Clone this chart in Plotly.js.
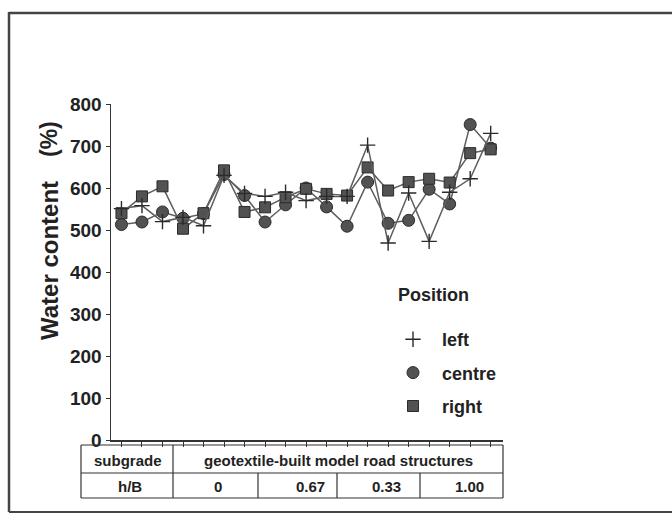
<!DOCTYPE html>
<html>
<head>
<meta charset="utf-8">
<script src="https://cdn.plot.ly/plotly-3.0.1.min.js"></script>
<style>
  html, body { margin: 0; padding: 0; background: #fff; }
  #chart { width: 672px; height: 527px; }
</style>
</head>
<body>
<div id="chart"></div>
<script>
// Water content along the model road cross-section, three measuring positions
const sections = [1, 2, 3, 4, 5, 6, 7, 8, 9, 10, 11, 12, 13, 14, 15, 16, 17, 18, 19];
const leftWC   = [551, 558, 520, 530, 510, 630, 587, 580, 590, 570, 580, 580, 702, 469, 588, 473, 590, 622, 730];
const centreWC = [513, 519, 543, 528, 539, 632, 582, 519, 560, 600, 555, 509, 614, 516, 523, 597, 562, 751, 695];
const rightWC  = [540, 580, 604, 503, 540, 642, 543, 554, 578, 598, 586, 582, 649, 594, 614, 622, 613, 683, 692];

const seriesNames = ['left', 'centre', 'right'];
const legendTitle = 'Position';
const yTicks = [0, 100, 200, 300, 400, 500, 600, 700, 800];

// table under the x axis
const tableHeader = ['subgrade', 'geotextile-built model road structures'];
const tableRow = ['h/B', '0', '0.67', '0.33', '1.00'];

// plot area in pixels
const W = 672, H = 527;
const L = 111, R = 503, T = 104, B = 440;
const px = x => (x - L) / (R - L);
const py = y => (B - y) / (B - T);

const FONT = 'Liberation Sans, Arial, Helvetica, sans-serif';
const LINE = '#5e5e5e';
const DARK = '#2a2a2a';
const FILL = '#525252';

function series(y, name, marker) {
  return {
    x: sections, y: y, name: name, type: 'scatter', mode: 'lines+markers',
    line: { color: LINE, width: 1.5 },
    marker: marker,
    showlegend: false, cliponaxis: false
  };
}
const mPlus   = { symbol: 'cross-thin', size: 11, color: DARK, line: { color: DARK, width: 1.4 } };
const mCircle = { symbol: 'circle', size: 12, color: FILL, line: { color: DARK, width: 1 } };
const mSquare = { symbol: 'square', size: 11, color: FILL, line: { color: DARK, width: 1 } };

function legendEntry(name, marker, g) {
  return {
    x: [null], y: [null], name: name, type: 'scatter', mode: 'markers',
    marker: marker, legendgroup: g, showlegend: true
  };
}

const traces = [
  series(centreWC, seriesNames[1], mCircle),
  series(rightWC, seriesNames[2], mSquare),
  series(leftWC, seriesNames[0], mPlus),
  legendEntry(seriesNames[0], mPlus, 'a'),
  legendEntry(seriesNames[1], mCircle, 'b'),
  legendEntry(seriesNames[2], mSquare, 'c')
];

// frame and table lines
const shapes = [];
function seg(x0, y0, x1, y1, w, c) {
  shapes.push({ type: 'line', xref: 'paper', yref: 'paper',
    x0: px(x0), y0: py(y0), x1: px(x1), y1: py(y1),
    line: { color: c || '#333', width: w || 1 } });
}
seg(9, 13, 672, 13, 2.5, '#444');
seg(9, 12, 9, 512, 2.5, '#444');
seg(9, 512, 672, 512, 2, '#444');

const tTop = 445, tMid = 473, tBot = 498, tL = 81, tR = 503;
seg(tL, tTop, tR, tTop, 1.2);
seg(tL, tMid, tR, tMid, 1.2);
seg(tL, tBot, tR, tBot, 1.2);
seg(tL, tTop, tL, tBot, 1.2);
seg(tR, tTop, tR, tBot, 1.2);
const rowDiv = [173, 258, 337, 420];
seg(rowDiv[0], tTop, rowDiv[0], tBot, 1.2);
for (let i = 1; i < rowDiv.length; i++) seg(rowDiv[i], tMid, rowDiv[i], tBot, 1.2);

const annotations = [];
function label(text, x, y, size, angle) {
  annotations.push({ text: text, xref: 'paper', yref: 'paper', x: px(x), y: py(y),
    xanchor: 'center', yanchor: 'middle', showarrow: false, textangle: angle || 0,
    font: { family: FONT, size: size, color: '#222', weight: 700 } });
}
label(tableHeader[0], (tL + rowDiv[0]) / 2 + 1, (tTop + tMid) / 2 + 1, 15);
label(tableHeader[1], (rowDiv[0] + tR) / 2, (tTop + tMid) / 2 + 1, 15);
// value cells sit slightly right of centre
const rowTextX = [130, 218, 310, 386, 469];
for (let i = 0; i < tableRow.length; i++) {
  label(tableRow[i], rowTextX[i], (tMid + tBot) / 2 + 1, 15);
}
label('Water content', 49, 261, 24, -90);
label('(%)', 49, 139, 23, -90);
label(legendTitle, 433, 295, 18);

const layout = {
  width: W, height: H,
  margin: { l: L, r: W - R, t: T, b: H - B, pad: 0 },
  paper_bgcolor: '#fff', plot_bgcolor: '#fff',
  showlegend: true,
  legend: {
    x: px(384), y: py(321), xanchor: 'left', yanchor: 'top',
    bgcolor: 'rgba(0,0,0,0)', traceorder: 'grouped', tracegroupgap: 7,
    font: { family: FONT, size: 18, color: '#222', weight: 700 },
    itemwidth: 48
  },
  xaxis: {
    range: [0.49, 19.6], showgrid: false, zeroline: false,
    showline: true, linecolor: '#333', linewidth: 1.5,
    tickmode: 'array', tickvals: sections, ticktext: sections.map(() => ''),
    ticks: 'outside', ticklen: 5, tickcolor: '#333', tickwidth: 1
  },
  yaxis: {
    range: [0, 800], showgrid: false, zeroline: false,
    showline: true, linecolor: '#333', linewidth: 1.5,
    tickmode: 'array', tickvals: yTicks, ticktext: yTicks.map(String),
    ticks: 'outside', ticklen: 4, tickcolor: '#333', tickwidth: 1,
    tickfont: { family: FONT, size: 19, color: '#222', weight: 700 }
  },
  shapes: shapes,
  annotations: annotations
};

Plotly.newPlot('chart', traces, layout, { staticPlot: true, displayModeBar: false });
</script>
</body>
</html>
